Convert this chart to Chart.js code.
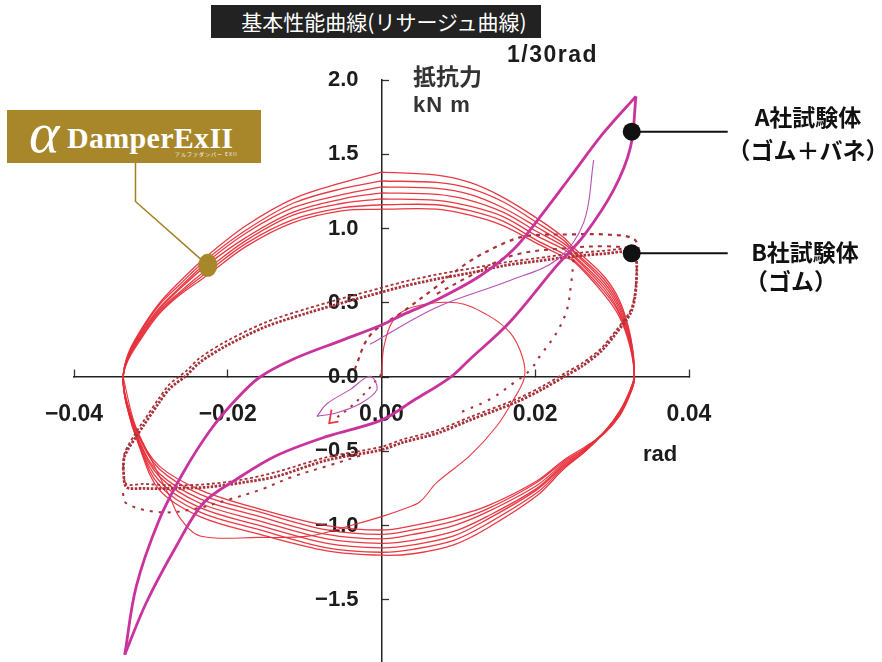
<!DOCTYPE html>
<html lang="ja">
<head>
<meta charset="utf-8">
<title>基本性能曲線(リサージュ曲線)</title>
<script src="https://cdn.jsdelivr.net/npm/chart.js@4.4.1/dist/chart.umd.min.js"></script>
<style>
  html, body { margin: 0; padding: 0; background: #fff; }
  #wrap { position: relative; width: 882px; height: 662px; overflow: hidden; background: #fff; }
  #chart { position: absolute; left: 0; top: 0; }
  .t { position: absolute; white-space: nowrap; color: #1c1c1c; }
  #title { left: 211px; top: 5px; width: 330px; height: 33px; background: #222; color: #fff; box-sizing: border-box; padding-left: 16px;
           font: 21px/33px "Noto Sans CJK JP", sans-serif; text-align: center; }
  #amp { left: 507px; top: 43px; font: bold 23px/23px "Liberation Sans", Arial, sans-serif; letter-spacing: 1.5px; }
  #yname { left: 413px; top: 64px; font: bold 23px/23px "Noto Sans CJK JP", sans-serif; color: #333; }
  #yunit { left: 413px; top: 94px; font: bold 22px/22px "Liberation Sans", Arial, sans-serif; color: #333; letter-spacing: 1px; }
  #xunit { left: 643px; top: 443px; font: bold 22px/22px "Liberation Sans", Arial, sans-serif; }
  .spec { width: 170px; text-align: center; font: bold 23px/23px "Noto Sans CJK JP", sans-serif; color: #111; }
  #logo { left: 7px; top: 110px; width: 254px; height: 53px; background: #A8872B; color: #fff; overflow: hidden; }
  #logo .alpha { position: absolute; left: 22px; top: -6px; font: italic 58px/58px "Liberation Serif", "DejaVu Serif", serif; }
  #logo .name { position: absolute; left: 60px; top: 13px; font: bold 30px/30px "Liberation Serif", "DejaVu Serif", serif; letter-spacing: 0.3px; }
  #logo .sub { position: absolute; left: 168px; top: 41px; font: 5px/6px "Noto Sans CJK JP", sans-serif; letter-spacing: 1px; opacity: 0.9; }
</style>
</head>
<body>
<div id="wrap">
  <canvas id="chart" width="882" height="662"></canvas>
  <div class="t" id="title">基本性能曲線(リサージュ曲線)</div>
  <div class="t" id="amp">1/30rad</div>
  <div class="t" id="yname">抵抗力</div>
  <div class="t" id="yunit">kN m</div>
  <div class="t" id="xunit">rad</div>
  <div class="t spec" style="left:723px; top:105px;">A社試験体</div>
  <div class="t spec" style="left:723px; top:138px;">（ゴム＋バネ）</div>
  <div class="t spec" style="left:720px; top:240px;">B社試験体</div>
  <div class="t spec" style="left:706px; top:269px;">（ゴム）</div>
  <div class="t" id="logo">
    <span class="alpha">α</span>
    <span class="name">DamperExII</span>
    <span class="sub">アルファダンパー EXII</span>
  </div>
</div>
<script>
// ---- axis ticks ----
const xTickValues = [-0.04, -0.02, 0.00, 0.02, 0.04];
const yTickValues = [-1.5, -1.0, -0.5, 0.0, 0.5, 1.0, 1.5, 2.0];

// ---- αDamperExII : repeated loops, each traced from the top at 0 rad, clockwise ----
const loopX = [
   0.0000,  0.0072,  0.0115,  0.0158,  0.0202,  0.0237,  0.0250,  0.0289,  0.0310,  0.0324,  0.0329,
   0.0324,  0.0310,  0.0290,  0.0265,  0.0237,  0.0202,  0.0137,  0.0094,  0.0041,  0.0000, -0.0071,
  -0.0158, -0.0236, -0.0289, -0.0315, -0.0332, -0.0336,
  -0.0330, -0.0315, -0.0290, -0.0263, -0.0228, -0.0176, -0.0115, -0.0050,  0.0000
];
const cycle1Y = [1.38, 1.36, 1.31, 1.21, 1.07, 0.94, 0.87, 0.68, 0.51, 0.27, 0.02,
  -0.08, -0.23, -0.37, -0.50, -0.62, -0.80, -1.02, -1.13, -1.19, -1.20, -1.17,
  -1.06, -0.94, -0.76, -0.47, -0.18, 0.00,
  0.15, 0.30, 0.49, 0.64, 0.81, 1.02, 1.20, 1.31, 1.38];
const cycle2Y = [1.32, 1.31, 1.27, 1.18, 1.04, 0.92, 0.85, 0.66, 0.49, 0.26, 0.01,
  -0.08, -0.23, -0.37, -0.50, -0.61, -0.78, -0.99, -1.10, -1.16, -1.18, -1.15,
  -1.03, -0.91, -0.73, -0.46, -0.18, 0.00,
  0.14, 0.29, 0.48, 0.62, 0.79, 0.99, 1.17, 1.27, 1.32];
const cycle3Y = [1.28, 1.27, 1.23, 1.14, 1.01, 0.90, 0.84, 0.64, 0.47, 0.24, 0.01,
  -0.09, -0.24, -0.37, -0.49, -0.60, -0.76, -0.96, -1.07, -1.13, -1.15, -1.12,
  -1.00, -0.88, -0.70, -0.45, -0.17, 0.00,
  0.14, 0.28, 0.46, 0.60, 0.77, 0.97, 1.14, 1.23, 1.28];
const cycle4Y = [1.24, 1.23, 1.19, 1.11, 0.98, 0.88, 0.82, 0.62, 0.45, 0.23, 0.00,
  -0.09, -0.24, -0.37, -0.49, -0.59, -0.75, -0.94, -1.04, -1.10, -1.12, -1.09,
  -0.97, -0.85, -0.67, -0.44, -0.17, 0.00,
  0.13, 0.27, 0.45, 0.59, 0.75, 0.94, 1.11, 1.20, 1.24];
const cycle5Y = [1.20, 1.19, 1.15, 1.08, 0.95, 0.86, 0.81, 0.60, 0.43, 0.22, 0.00,
  -0.10, -0.25, -0.37, -0.48, -0.58, -0.73, -0.91, -1.00, -1.06, -1.09, -1.06,
  -0.94, -0.82, -0.65, -0.43, -0.16, 0.00,
  0.12, 0.26, 0.44, 0.57, 0.72, 0.92, 1.09, 1.17, 1.20];
const cycle6Y = [1.16, 1.16, 1.12, 1.05, 0.92, 0.83, 0.79, 0.58, 0.42, 0.20, -0.01,
  -0.10, -0.25, -0.37, -0.48, -0.57, -0.71, -0.89, -0.97, -1.03, -1.06, -1.03,
  -0.91, -0.79, -0.62, -0.41, -0.16, 0.00,
  0.12, 0.25, 0.43, 0.56, 0.70, 0.90, 1.06, 1.14, 1.16];
const cycle7Y = [1.13, 1.13, 1.09, 1.02, 0.90, 0.81, 0.78, 0.56, 0.40, 0.19, -0.01,
  -0.11, -0.26, -0.38, -0.47, -0.56, -0.70, -0.87, -0.94, -1.00, -1.03, -1.00,
  -0.89, -0.76, -0.60, -0.40, -0.15, 0.00,
  0.11, 0.24, 0.42, 0.55, 0.68, 0.88, 1.04, 1.12, 1.13];
// first excursion from the origin
const virginX = [0.0000, 0.0003, 0.0015, 0.0040, 0.0098, 0.0137, 0.0167, 0.0183, 0.0186, 0.0172, 0.0150, 0.0115, 0.0072,
  0.0050, 0.0028, 0.0000, -0.0040, -0.0093, -0.0160, -0.0236, -0.0262, -0.0276, -0.0302, -0.0322, -0.0336];
const virginY = [0.00, 0.20, 0.38, 0.47, 0.50, 0.42, 0.30, 0.14, 0.00, -0.15, -0.33, -0.53, -0.71,
  -0.84, -0.89, -0.94, -1.00, -1.07, -1.08, -1.07, -0.95, -0.80, -0.53, -0.30, 0.00];
// short first stroke left of the origin
const redStubX = [-0.0065, -0.0068, -0.0056];
const redStubY = [-0.22, -0.31, -0.30];

// ---- B社試験体 (ゴム) ----
const bMainX = [-0.0336, -0.0334, -0.0319, -0.0310, -0.0289, -0.0276, -0.0254, -0.0236, -0.0202, -0.0150, -0.0097,
  -0.0037, -0.0015, 0.0028, 0.0072, 0.0115, 0.0159, 0.0202, 0.0246, 0.0289, 0.0328, 0.0332, 0.0330, 0.0324, 0.0306,
  0.0285, 0.0260, 0.0240, 0.0210, 0.0175, 0.0115, 0.0072, 0.0028, 0.0000, -0.0071, -0.0137, -0.0180, -0.0223, -0.0267,
  -0.0310, -0.0332, -0.0336];
const bMainY = [-0.62, -0.53, -0.40, -0.33, -0.17, -0.08, 0.01, 0.10, 0.21, 0.34, 0.43,
  0.52, 0.55, 0.61, 0.66, 0.70, 0.75, 0.78, 0.81, 0.83, 0.84, 0.75, 0.55, 0.43, 0.30,
  0.17, 0.07, 0.01, -0.08, -0.17, -0.29, -0.38, -0.44, -0.49, -0.56, -0.67, -0.71, -0.74, -0.75,
  -0.75, -0.74, -0.62];
const bSecondY = [-0.60, -0.51, -0.37, -0.30, -0.14, -0.05, 0.04, 0.13, 0.24, 0.37, 0.46,
  0.55, 0.58, 0.64, 0.69, 0.73, 0.77, 0.80, 0.83, 0.85, 0.86, 0.78, 0.58, 0.45, 0.32,
  0.19, 0.09, 0.03, -0.06, -0.15, -0.27, -0.36, -0.42, -0.47, -0.54, -0.64, -0.69, -0.72, -0.73,
  -0.72, -0.72, -0.60];
const bRiseX = [-0.0035, -0.0015, 0.0028, 0.0072, 0.0115, 0.0159, 0.0189, 0.0246, 0.0289, 0.0328, 0.0337];
const bRiseY = [0.05, 0.28, 0.44, 0.61, 0.78, 0.90, 0.95, 0.96, 0.96, 0.93, 0.82];
const bUpperX = [0.0072, 0.0115, 0.0172, 0.0246, 0.0289, 0.0328];
const bUpperY = [0.56, 0.68, 0.82, 0.87, 0.88, 0.87];
const bDropX = [0.0250, 0.0246, 0.0241, 0.0228, 0.0206, 0.0194, 0.0172, 0.0141, 0.0102];
const bDropY = [0.79, 0.60, 0.45, 0.30, 0.14, 0.05, -0.04, -0.15, -0.24];
const bLowerX = [-0.0028, -0.0071, -0.0115, -0.0158, -0.0202, -0.0245, -0.0289, -0.0332, -0.0337];
const bLowerY = [-0.53, -0.60, -0.67, -0.76, -0.83, -0.89, -0.91, -0.85, -0.75];
const bStartX = [0.0000, -0.0020, -0.0040, -0.0060];
const bStartY = [0.02, -0.10, -0.20, -0.28];

// ---- A社試験体 (ゴム＋バネ) ----
const aRiseX = [-0.0334, -0.0306, -0.0267, -0.0232, -0.0189, -0.0137, -0.0071, 0.0000, 0.0041, 0.0090, 0.0115,
  0.0167, 0.0228, 0.0263, 0.0302, 0.0324, 0.0331];
const aRiseY = [-1.87, -1.52, -1.14, -0.85, -0.69, -0.53, -0.40, -0.29, -0.16, 0.00, 0.12,
  0.37, 0.75, 0.95, 1.26, 1.55, 1.89];
const aFallX = [0.0331, 0.0289, 0.0246, 0.0211, 0.0172, 0.0128, 0.0072, 0.0028, 0.0000, -0.0050, -0.0115,
  -0.0158, -0.0189, -0.0223, -0.0258, -0.0289, -0.0319, -0.0334];
const aFallY = [1.89, 1.645, 1.35, 1.11, 0.86, 0.68, 0.52, 0.42, 0.35, 0.25, 0.12,
  0.00, -0.15, -0.36, -0.645, -0.96, -1.41, -1.87];
const aThinX = [-0.0015, 0.0072, 0.0167, 0.0228, 0.0263, 0.0276];
const aThinY = [0.22, 0.47, 0.65, 0.79, 1.04, 1.46];
const aSmallX = [-0.0084, -0.0071, -0.0041, -0.0015, -0.0006, -0.0028, -0.0058, -0.0084];
const aSmallY = [-0.265, -0.18, -0.085, 0.005, -0.085, -0.18, -0.24, -0.265];

// callout anchors (rotation, force)
const specimenMarks = [[0.03255, 1.652], [0.03255, 0.833]];
const damperMark = [-0.0226, 0.752];

// ---- helpers ----
const pts = (xs, ys) => xs.map((x, i) => ({ x, y: ys[i] }));
const fmt = (v, d) => (Math.abs(v) < 1e-9 ? (0).toFixed(d) : v.toFixed(d)).replace('-', '−');

const RED = 'rgba(231, 46, 58, 0.95)';
const BROWN = '#A9323A';
const MAGENTA = '#C9339C';

function line(data, color, width, extra) {
  return Object.assign({
    data, borderColor: color, borderWidth: width, showLine: true, fill: false,
    pointRadius: 0, pointHoverRadius: 0, tension: 0.35
  }, extra || {});
}

const datasets = [
  // A
  line(pts(aRiseX, aRiseY), MAGENTA, 2.8, { order: 0 }),
  line(pts(aFallX, aFallY), MAGENTA, 2.8, { order: 0 }),
  line(pts(aThinX, aThinY), '#B84FB5', 1.1, { order: 0 }),
  line(pts(aSmallX, aSmallY), '#B84FB5', 1.1, { order: 0 }),
  // B
  line(pts(bMainX, bMainY), BROWN, 2.8, { order: 1, borderDash: [2.5, 1.5], tension: 0.3 }),
  line(pts(bMainX, bSecondY), BROWN, 1.8, { order: 1, borderDash: [3, 2.5], tension: 0.3 }),
  line(pts(bRiseX, bRiseY), BROWN, 2.2, { order: 1, borderDash: [4, 5] }),
  line(pts(bUpperX, bUpperY), BROWN, 2.0, { order: 1, borderDash: [4, 5] }),
  line(pts(bDropX, bDropY), BROWN, 2.2, { order: 1, borderDash: [2.5, 7] }),
  line(pts(bLowerX, bLowerY), BROWN, 2.0, { order: 1, borderDash: [3, 6] }),
  line(pts(bStartX, bStartY), BROWN, 2.0, { order: 1, borderDash: [2.5, 6] }),
  // αDamperExII
  line(pts(loopX, cycle1Y), RED, 1.3, { order: 2 }),
  line(pts(loopX, cycle2Y), RED, 1.3, { order: 2 }),
  line(pts(loopX, cycle3Y), RED, 1.3, { order: 2 }),
  line(pts(loopX, cycle4Y), RED, 1.3, { order: 2 }),
  line(pts(loopX, cycle5Y), RED, 1.3, { order: 2 }),
  line(pts(loopX, cycle6Y), RED, 1.3, { order: 2 }),
  line(pts(loopX, cycle7Y), RED, 1.3, { order: 2 }),
  line(pts(virginX, virginY), RED, 1.1, { order: 2 }),
  line(pts(redStubX, redStubY), RED, 1.8, { order: 2, tension: 0 })
];

// callout markers and leader lines
const callouts = {
  id: 'callouts',
  afterDatasetsDraw(chart) {
    const { ctx, scales: { x, y } } = chart;
    ctx.save();
    for (const [vx, vy] of specimenMarks) {
      const px = x.getPixelForValue(vx), py = y.getPixelForValue(vy);
      ctx.strokeStyle = '#111';
      ctx.lineWidth = 2;
      ctx.beginPath(); ctx.moveTo(px, py); ctx.lineTo(px + 96, py); ctx.stroke();
      ctx.fillStyle = '#111';
      ctx.beginPath(); ctx.arc(px, py, 9, 0, Math.PI * 2); ctx.fill();
    }
    const gx = x.getPixelForValue(damperMark[0]), gy = y.getPixelForValue(damperMark[1]);
    ctx.strokeStyle = '#A07F24';
    ctx.lineWidth = 1.5;
    ctx.beginPath(); ctx.moveTo(gx, gy); ctx.lineTo(135.5, 201.5); ctx.lineTo(135.5, 163); ctx.stroke();
    ctx.fillStyle = '#A8872B';
    ctx.beginPath(); ctx.ellipse(gx, gy, 9.5, 11.5, 0, 0, Math.PI * 2); ctx.fill();
    ctx.restore();
  }
};

const noPad = s => { s.paddingTop = 0; s.paddingBottom = 0; s.paddingLeft = 0; s.paddingRight = 0; };
const yTickFont = { family: '"Liberation Sans", Arial, sans-serif', size: 22, weight: 'bold' };
const xTickFont = { family: '"Liberation Sans", Arial, sans-serif', size: 23, weight: 'bold' };

new Chart(document.getElementById('chart'), {
  type: 'scatter',
  data: { datasets },
  options: {
    responsive: false,
    animation: false,
    devicePixelRatio: 1,
    layout: { padding: { left: 74, right: 193, top: 80, bottom: 0 } },
    plugins: { legend: { display: false }, tooltip: { enabled: false } },
    scales: {
      x: {
        type: 'linear', min: -0.04, max: 0.04,
        position: { y: 0 },
        afterBuildTicks: s => { s.ticks = xTickValues.map(v => ({ value: v })); },
        afterFit: noPad,
        ticks: { padding: 32, color: '#1c1c1c', font: xTickFont, maxRotation: 0, autoSkip: false,
                 callback: v => fmt(v, 2) },
        grid: { drawOnChartArea: false, drawTicks: true, tickLength: -8, tickColor: '#333', tickWidth: 1.3 },
        border: { display: true, color: '#222', width: 1.5 }
      },
      y: {
        type: 'linear', min: -1.919, max: 2.0,
        position: 'center',
        afterBuildTicks: s => { s.ticks = yTickValues.map(v => ({ value: v })); },
        afterFit: noPad,
        ticks: { padding: 31, color: '#1c1c1c', font: yTickFont, autoSkip: false,
                 callback: v => fmt(v, 1) },
        grid: { drawOnChartArea: false, drawTicks: true, tickLength: -8, tickColor: '#333', tickWidth: 1.3 },
        border: { display: true, color: '#222', width: 1.5 }
      }
    }
  },
  plugins: [callouts]
});
</script>
</body>
</html>
